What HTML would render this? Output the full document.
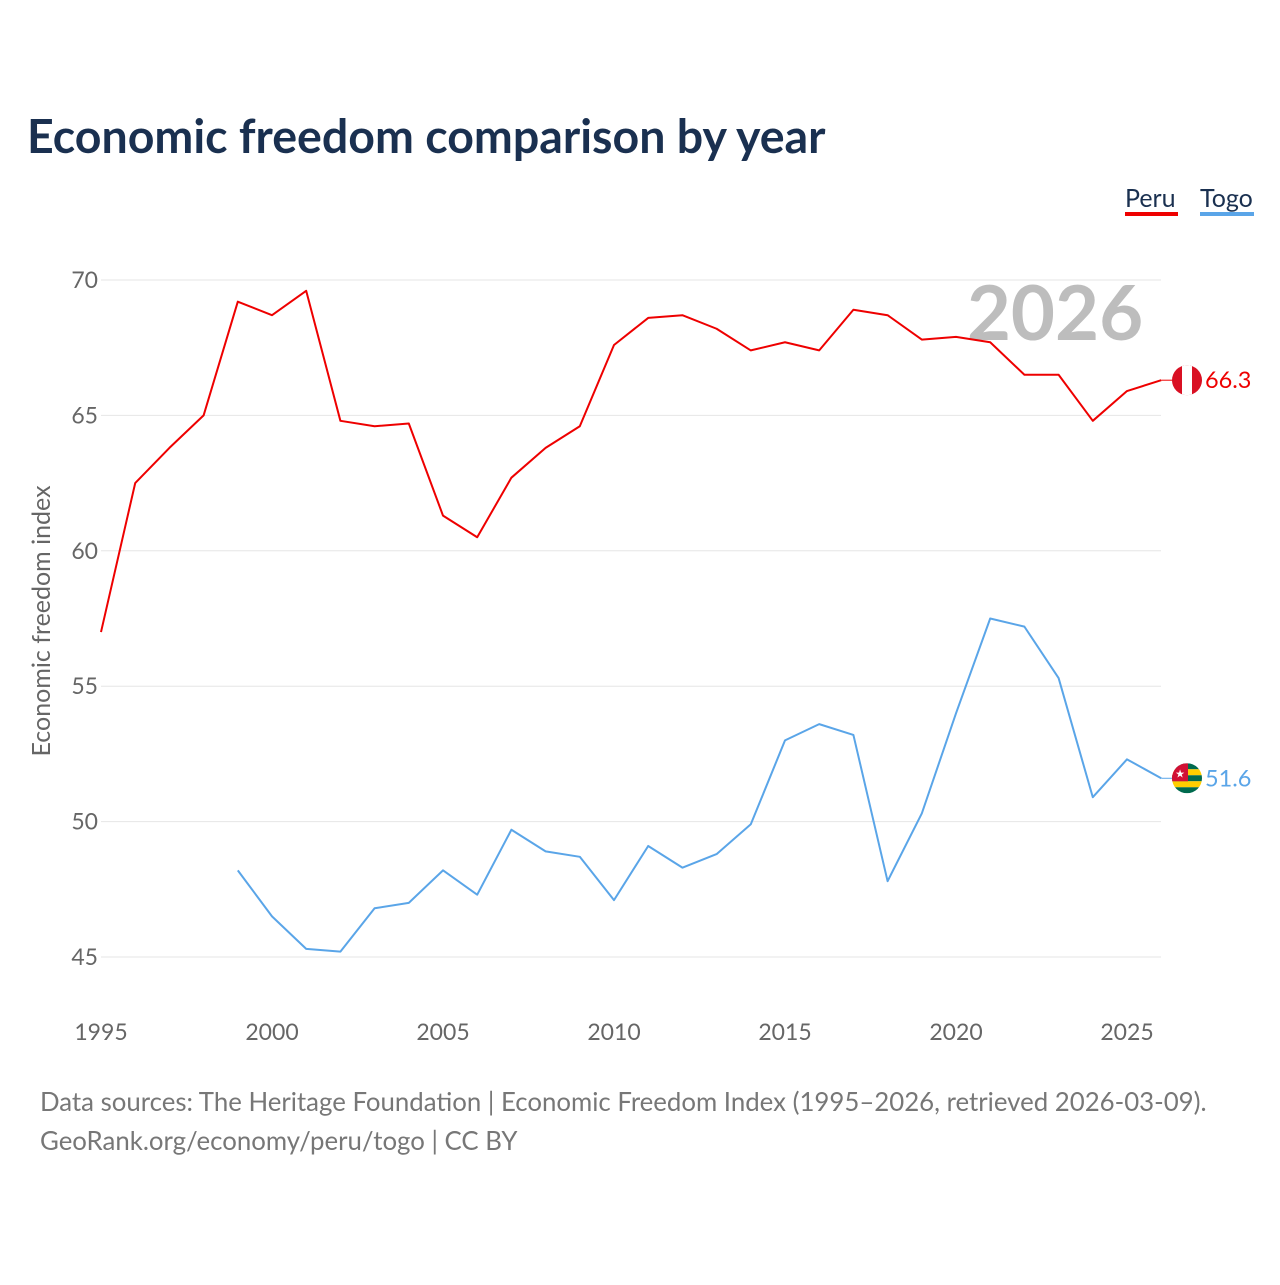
<!DOCTYPE html>
<html><head><meta charset="utf-8"><style>
body{margin:0;background:#fff;font-family:"Liberation Sans",sans-serif;}
svg text{font-family:"Lato","Liberation Sans",sans-serif;}
</style></head><body>
<svg id="chart" width="1280" height="1280" xmlns="http://www.w3.org/2000/svg">
<text x="27" y="153" font-size="46.5" font-weight="bold" fill="#1a3050">Economic freedom comparison by year</text>
<g>
<text x="1125" y="207" font-size="25" fill="#1a3050">Peru</text>
<rect x="1125" y="212" width="53" height="4" fill="#ee0000"/>
<text x="1200" y="207" font-size="25" fill="#1a3050">Togo</text>
<rect x="1200" y="212" width="54" height="4" fill="#5aa5e8"/>
</g>
<text x="1055" y="340" font-size="76" font-weight="bold" fill="#bdbdbd" text-anchor="middle">2026</text>
<text transform="translate(50,621) rotate(-90)" font-size="25" fill="#666" text-anchor="middle">Economic freedom index</text>
<g id="grid"></g><g id="xt"></g><g id="series"></g>
<text x="40" y="1111" font-size="25.8" fill="#777">Data sources: The Heritage Foundation | Economic Freedom Index (1995–2026, retrieved 2026-03-09).</text>
<text x="40" y="1150" font-size="25.8" fill="#777">GeoRank.org/economy/peru/togo | CC BY</text>
</svg>
<script>
const years=[];for(let y=1995;y<=2026;y++)years.push(y);
const peru=[57.0,62.5,63.8,65.0,69.2,68.7,69.6,64.8,64.6,64.7,61.3,60.5,62.7,63.8,64.6,67.6,68.6,68.7,68.2,67.4,67.7,67.4,68.9,68.7,67.8,67.9,67.7,66.5,66.5,64.8,65.9,66.3];
const togoYears=[1999,2000,2001,2002,2003,2004,2005,2006,2007,2008,2009,2010,2011,2012,2013,2014,2015,2016,2017,2018,2019,2020,2021,2022,2023,2024,2025,2026];
const togo=[48.2,46.5,45.3,45.2,46.8,47.0,48.2,47.3,49.7,48.9,48.7,47.1,49.1,48.3,48.8,49.9,53.0,53.6,53.2,47.8,50.3,54.0,57.5,57.2,55.3,50.9,52.3,51.6];
const yTicks=[45,50,55,60,65,70];
const xTicks=[1995,2000,2005,2010,2015,2020,2025];
const NS="http://www.w3.org/2000/svg";
const X=y=>101+(y-1995)*34.2;
const Y=v=>280+(70-v)*27.08;
function mk(tag,attrs,parent,text){const e=document.createElementNS(NS,tag);for(const k in attrs)e.setAttribute(k,attrs[k]);if(text!==undefined)e.textContent=text;parent.appendChild(e);return e;}
const grid=document.getElementById('grid');
yTicks.forEach(v=>{
 const l=mk('line',{x1:101,x2:1161,y1:Y(v),y2:Y(v),stroke:'#e6e6e6','stroke-width':1},grid);
 
 
 const t=mk('text',{x:98,y:Y(v)+8,'font-size':23,fill:'#666','text-anchor':'end'},grid,String(v));
 
 
});
const xt=document.getElementById('xt');
xTicks.forEach(v=>{
 const t=mk('text',{x:X(v),y:1040,'font-size':23,fill:'#666','text-anchor':'middle'},xt,String(v));
 
 
});
const s=document.getElementById('series');
function line(xs,vs,color,name){
 const p=mk('polyline',{points:xs.map((y,i)=>X(y)+','+Y(vs[i])).join(' '),fill:'none',stroke:color,'stroke-width':2,'stroke-linejoin':'round'},s);
 
 
}
line(years,peru,'#ee0000','peru-line');
line(togoYears,togo,'#5aa5e8','togo-line');
const pv=peru[peru.length-1],tv=togo[togo.length-1];
const cx=1187;
let g=mk('g',{},s);


mk('clipPath',{id:'cp'},g);document.getElementById('cp').appendChild(document.createElementNS(NS,'circle'));
const c1=document.querySelector('#cp circle');c1.setAttribute('cx',cx);c1.setAttribute('cy',Y(pv));c1.setAttribute('r',15);
mk('line',{x1:X(2026),x2:cx-15,y1:Y(pv),y2:Y(pv),stroke:'#ee0000','stroke-width':1},g);
mk('rect',{x:cx-15,y:Y(pv)-15,width:30,height:30,fill:'#d91023','clip-path':'url(#cp)'},g);
mk('rect',{x:cx-5,y:Y(pv)-15,width:10,height:30,fill:'#fff','clip-path':'url(#cp)'},g);
let t=mk('text',{x:1205,y:Y(pv)+8,'font-size':23.5,fill:'#ee0000'},s,pv.toFixed(1));


g=mk('g',{},s);


mk('clipPath',{id:'ct'},g);document.getElementById('ct').appendChild(document.createElementNS(NS,'circle'));
const c2=document.querySelector('#ct circle');c2.setAttribute('cx',cx);c2.setAttribute('cy',Y(tv));c2.setAttribute('r',15);
mk('line',{x1:X(2026),x2:cx-15,y1:Y(tv),y2:Y(tv),stroke:'#5aa5e8','stroke-width':1},g);
for(let i=0;i<5;i++)mk('rect',{x:cx-15,y:Y(tv)-15+i*6,width:30,height:6,fill:i%2?'#ffce00':'#006a4e','clip-path':'url(#ct)'},g);
mk('rect',{x:cx-15,y:Y(tv)-15,width:16,height:18,fill:'#d21034','clip-path':'url(#ct)'},g);
mk('text',{x:cx-7,y:Y(tv)-1,'font-size':11,fill:'#fff','text-anchor':'middle'},g,'★');
t=mk('text',{x:1205,y:Y(tv)+8,'font-size':23.5,fill:'#5aa5e8'},s,tv.toFixed(1));


</script>
</body></html>
